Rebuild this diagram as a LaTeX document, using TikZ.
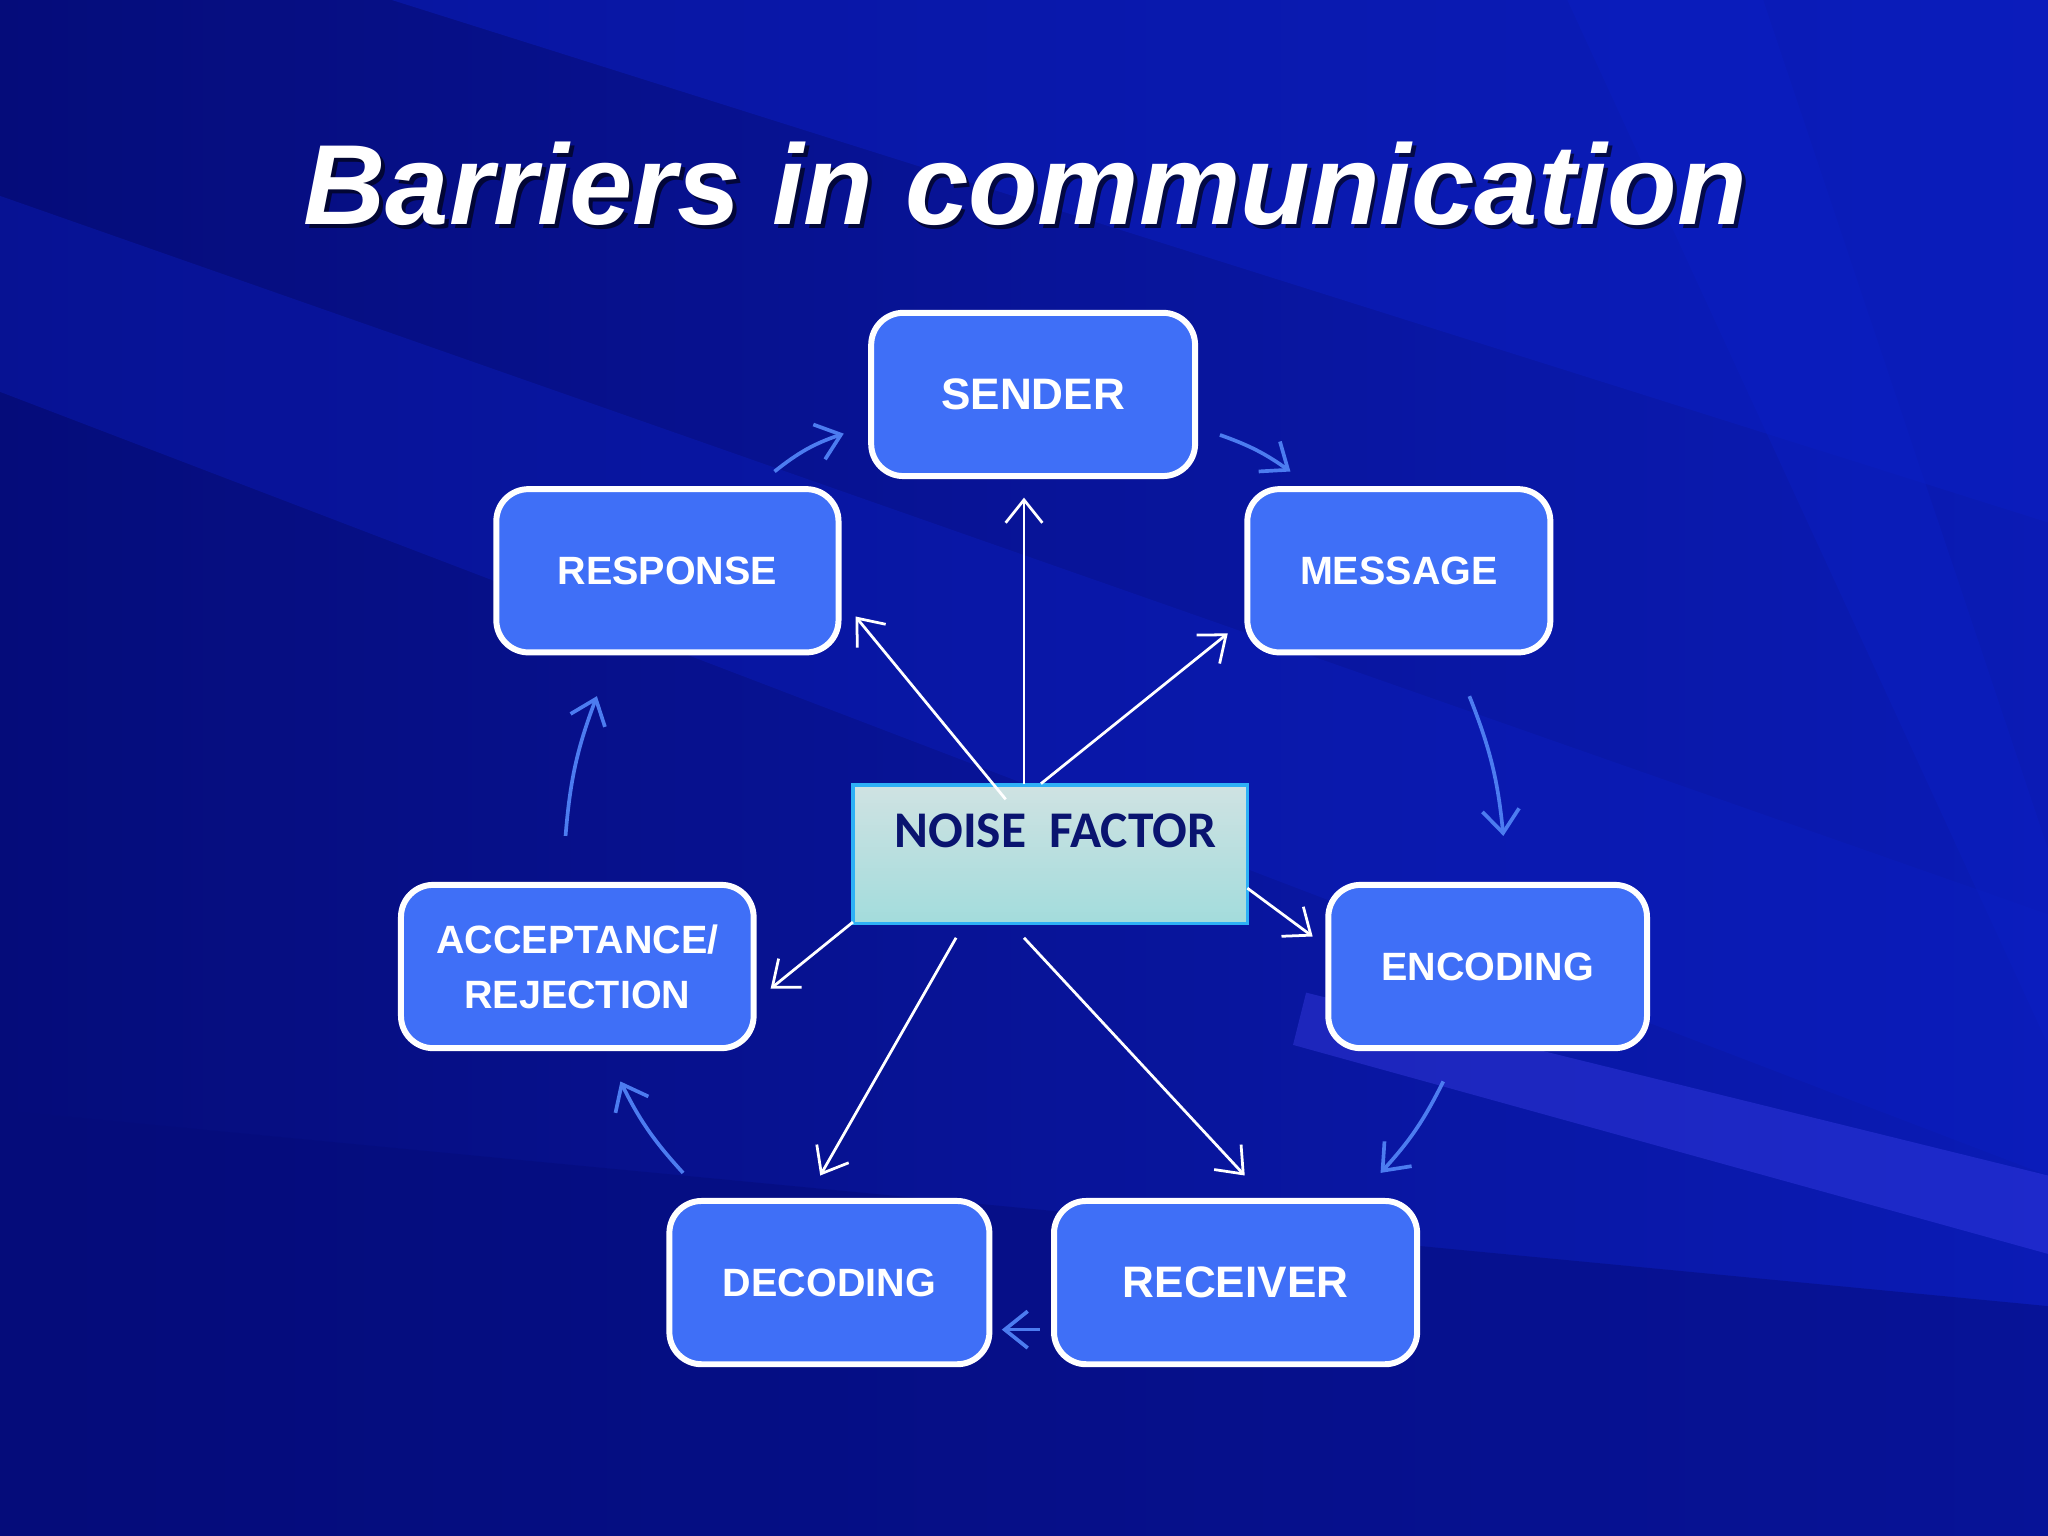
\documentclass[tikz,border=0pt]{standalone}
\usepackage{fontspec}
\setmainfont{Liberation Sans}
\newfontfamily\calib{Carlito}
\usetikzlibrary{arrows.meta,shadows}
\definecolor{bgdark}{HTML}{050C7A}
\definecolor{bgmid}{HTML}{0C1FC4}
\definecolor{boxblue}{HTML}{3F6FF7}
\definecolor{flow}{HTML}{4C7CF0}
\definecolor{navy}{HTML}{0A1470}
\tikzset{
 stage/.style={draw=white,line width=1.3pt,rounded corners=7pt,fill=boxblue,
   minimum width=#1,minimum height=125*0.01cm,text=white,font=\bfseries\fontsize{8.6}{12}\selectfont,align=center},
 noisebox/.style={draw=flow!60!cyan,line width=0.8pt,minimum width=302*0.01cm,minimum height=106*0.01cm,
   top color=cyan!25!gray!30!white,bottom color=cyan!45!gray!50!white,text=navy,font=\calib\bfseries\fontsize{11.2}{14}\selectfont},
 whitearr/.style={white,line width=0.6pt,-{Straight Barb[length=5pt,width=8pt]}},
 bluearr/.style={flow,line width=0.8pt,-{Straight Barb[length=5pt,width=8pt]}}
}
\begin{document}
\begin{tikzpicture}[x=0.01cm,y=-0.01cm]
\useasboundingbox (0,0) rectangle (1568,1176);
\shade[left color=bgdark,right color=bgmid!80!bgdark] (0,0) rectangle (1568,1176);
\fill[bgmid,opacity=0.45] (0,0) -- (1568,0) -- (1568,400) -- (300,0) -- cycle;
\fill[bgmid,opacity=0.35] (0,150) -- (1568,700) -- (1568,900) -- (0,300) -- cycle;
\fill[bgdark,opacity=0.5] (0,850) -- (1568,1000) -- (1568,1176) -- (0,1176) -- cycle;
\fill[blue!70!white,opacity=0.3] (1000,760) -- (1568,900) -- (1568,960) -- (990,800) -- cycle;
\fill[bgmid,opacity=0.4] (1200,0) -- (1350,0) -- (1568,650) -- (1568,800) -- cycle;
\node[text=black,opacity=0.6,font=\bfseries\itshape\fontsize{24.8}{30}\selectfont] at (788,144) {Barriers in communication};
\node (title) [text=white,font=\bfseries\itshape\fontsize{24.8}{30}\selectfont] at (785,141) {Barriers in communication};
\node (sender) [stage=248*0.01cm,font=\bfseries\fontsize{9.6}{12}\selectfont] at (791,302) {SENDER};
\node (response) [stage=262*0.01cm] at (511,437) {RESPONSE};
\node (message) [stage=232*0.01cm] at (1071,437) {MESSAGE};
\node (accept) [stage=270*0.01cm] at (442,740) {ACCEPTANCE/\\[0pt]REJECTION};
\node (encoding) [stage=244*0.01cm] at (1139,740) {ENCODING};
\node (decoding) [stage=245*0.01cm] at (635,982) {DECODING};
\node (receiver) [stage=278*0.01cm,font=\bfseries\fontsize{9.6}{12}\selectfont] at (946,982) {RECEIVER};
\node (noise) [noisebox] at (804,654) {};
\node (noiselabel) [text=navy,font=\calib\bfseries\fontsize{11.2}{14}\selectfont] at (808,636) {NOISE\ \ FACTOR};
% white arrows
\coordinate (n1) at (784,600); \coordinate (t1) at (784,381);
\coordinate (n2) at (770,612); \coordinate (t2) at (655,472);
\coordinate (n3) at (797,600); \coordinate (t3) at (940,485);
\coordinate (n4) at (955,680); \coordinate (t4) at (1005,717);
\coordinate (n5) at (653,706); \coordinate (t5) at (590,757);
\coordinate (n6) at (732,718); \coordinate (t6) at (628,900);
\coordinate (n7) at (784,718); \coordinate (t7) at (953,900);
\foreach \i in {1,...,7} \draw[whitearr] (n\i) -- (t\i);
% blue flow
\coordinate (b1s) at (593,361); \coordinate (b1e) at (646,332);
\coordinate (b2s) at (934,333); \coordinate (b2e) at (988,361);
\coordinate (b3s) at (1125,533); \coordinate (b3e) at (1151,640);
\coordinate (b4s) at (1105,828); \coordinate (b4e) at (1057,898);
\coordinate (b5s) at (796,1018); \coordinate (b5e) at (767,1018);
\coordinate (b6s) at (523,898); \coordinate (b6e) at (475,828);
\coordinate (b7s) at (433,640); \coordinate (b7e) at (457,533);
\draw[bluearr] (b1s) to[bend left=10] (b1e);
\draw[bluearr] (b2s) to[bend left=8] (b2e);
\draw[bluearr] (b3s) to[bend left=8] (b3e);
\draw[bluearr] (b4s) to[bend left=8] (b4e);
\draw[bluearr] (b5s) -- (b5e);
\draw[bluearr] (b6s) to[bend left=8] (b6e);
\draw[bluearr] (b7s) to[bend left=8] (b7e);
\end{tikzpicture}
\end{document}
